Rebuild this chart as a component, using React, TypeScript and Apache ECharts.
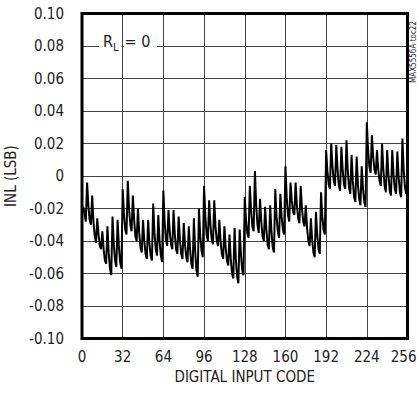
import React, { useEffect, useRef } from "react";
import * as echarts from "echarts";

// INL (LSB) for digital input codes 0..256
const INL_LSB: number[] = [
  -0.020, -0.019, -0.023, -0.028,
  -0.004, -0.018, -0.027, -0.030,
  -0.012, -0.028, -0.037, -0.041,
  -0.026, -0.036, -0.043, -0.045,
  -0.034, -0.045, -0.052, -0.054,
  -0.031, -0.047, -0.057, -0.061,
  -0.025, -0.042, -0.052, -0.056,
  -0.027, -0.043, -0.053, -0.057,
  -0.008, -0.023, -0.033, -0.036,
  -0.003, -0.020, -0.030, -0.034,
  -0.012, -0.027, -0.037, -0.040,
  -0.020, -0.035, -0.044, -0.047,
  -0.027, -0.040, -0.048, -0.051,
  -0.027, -0.041, -0.049, -0.052,
  -0.017, -0.035, -0.045, -0.049,
  -0.024, -0.040, -0.049, -0.053,
  -0.009, -0.028, -0.039, -0.043,
  -0.021, -0.034, -0.042, -0.045,
  -0.021, -0.036, -0.045, -0.048,
  -0.025, -0.039, -0.048, -0.051,
  -0.029, -0.042, -0.050, -0.053,
  -0.031, -0.045, -0.054, -0.057,
  -0.026, -0.046, -0.058, -0.062,
  -0.020, -0.037, -0.046, -0.050,
  -0.006, -0.025, -0.036, -0.040,
  -0.015, -0.030, -0.039, -0.042,
  -0.015, -0.031, -0.040, -0.043,
  -0.027, -0.040, -0.048, -0.051,
  -0.031, -0.044, -0.052, -0.055,
  -0.036, -0.051, -0.060, -0.063,
  -0.032, -0.051, -0.062, -0.066,
  -0.033, -0.048, -0.058, -0.061,
  -0.013, -0.027, -0.035, -0.038,
  -0.006, -0.021, -0.031, -0.034,
  0.003, -0.018, -0.030, -0.035,
  -0.014, -0.028, -0.037, -0.040,
  -0.019, -0.033, -0.042, -0.045,
  -0.018, -0.034, -0.044, -0.047,
  -0.008, -0.025, -0.034, -0.038,
  -0.011, -0.025, -0.033, -0.036,
  0.006, -0.013, -0.024, -0.028,
  -0.004, -0.015, -0.022, -0.024,
  -0.004, -0.018, -0.026, -0.029,
  -0.006, -0.020, -0.028, -0.031,
  -0.018, -0.032, -0.040, -0.043,
  -0.026, -0.039, -0.047, -0.050,
  -0.022, -0.036, -0.045, -0.048,
  -0.010, -0.025, -0.033, -0.036,
  0.016, 0.003, -0.005, -0.008,
  0.020, 0.006, -0.003, -0.006,
  0.019, 0.004, -0.006, -0.009,
  0.018, 0.004, -0.005, -0.008,
  0.022, 0.004, -0.007, -0.011,
  0.013, -0.003, -0.013, -0.016,
  0.012, -0.005, -0.014, -0.018,
  0.006, -0.008, -0.016, -0.019,
  0.033, 0.016, 0.006, 0.002,
  0.025, 0.012, 0.004, 0.001,
  0.016, 0.004, -0.003, -0.006,
  0.020, 0.004, -0.006, -0.010,
  0.016, 0.001, -0.009, -0.012,
  0.016, 0.001, -0.008, -0.011,
  0.015, 0.000, -0.010, -0.013,
  0.023, 0.004, -0.007, -0.011,
  -0.002,
];

const X_MIN = 0;
const X_MAX = 256;
const X_STEP = 32;
const Y_MIN = -0.1;
const Y_MAX = 0.1;
const Y_STEP = 0.02;

const X_TITLE = "DIGITAL INPUT CODE";
const Y_TITLE = "INL (LSB)";
const FIG_ID = "MAX5556A toc22";

const FONT = '"DejaVu Sans Condensed", "Liberation Sans Narrow", "Arial Narrow", sans-serif';
const TXT = "#222";
const FS = 15;

export default function App() {
  const ref = useRef<HTMLDivElement>(null);

  useEffect(() => {
    if (!ref.current) return;
    const chart = echarts.init(ref.current, undefined, { renderer: "svg" });
    const points = INL_LSB.map((v, i) => [i, v]);
    const gridLeft = 82;
    const gridTop = 13.5;
    const gridW = 325.5;
    const gridH = 325;
    const yOf = (v: number) => gridTop + ((Y_MAX - v) / (Y_MAX - Y_MIN)) * gridH;
    const xOf = (c: number) => gridLeft + ((c - X_MIN) / (X_MAX - X_MIN)) * gridW;
    const lineY = yOf(0.08);
    const vx = xOf(32);

    chart.setOption({
      animation: false,
      backgroundColor: "#fff",
      textStyle: { fontFamily: FONT },
      grid: {
        left: gridLeft,
        top: gridTop,
        width: gridW,
        height: gridH,
        show: true,
        borderColor: "#000",
        borderWidth: 3,
        containLabel: false,
        outerBoundsMode: "none",
        z: 3,
      },
      xAxis: {
        type: "value",
        min: X_MIN,
        max: X_MAX,
        interval: X_STEP,
        name: X_TITLE,
        nameLocation: "middle",
        nameGap: 29,
        nameTextStyle: { fontSize: FS, color: TXT, fontFamily: FONT },
        axisLine: { show: false },
        axisTick: { show: false },
        axisLabel: {
          fontSize: FS,
          color: TXT,
          margin: 11,
          fontFamily: FONT,
          showMaxLabel: true,
          showMinLabel: true,
          alignMaxLabel: "right",
          formatter: (v: number) => (v === X_MAX ? "{m|" + v + "}" : String(v)),
          rich: {
            m: { fontSize: FS, color: TXT, fontFamily: FONT, padding: [0, -9, 0, 0] },
          },
        },
        splitLine: { show: true, lineStyle: { color: "#444", width: 1 } },
      },
      yAxis: {
        type: "value",
        min: Y_MIN,
        max: Y_MAX,
        interval: Y_STEP,
        name: Y_TITLE,
        nameLocation: "middle",
        nameRotate: 90,
        nameGap: 48,
        nameTextStyle: { fontSize: FS, color: TXT, fontFamily: FONT },
        axisLine: { show: false },
        axisTick: { show: false },
        axisLabel: {
          fontSize: FS,
          color: TXT,
          margin: 18,
          fontFamily: FONT,
          formatter: (v: number) => (Math.abs(v) < 1e-9 ? "0" : v.toFixed(2)),
        },
        splitLine: { show: true, lineStyle: { color: "#444", width: 1 } },
      },
      series: [
        {
          type: "line",
          data: points,
          showSymbol: false,
          symbol: "none",
          lineStyle: { color: "#000", width: 2 },
          z: 2,
        },
      ],
      graphic: [
        { type: "rect", shape: { x: 99, y: lineY - 2, width: vx - 1.2 - 99, height: 4 }, style: { fill: "#fff" }, z: 10 },
        { type: "rect", shape: { x: vx + 1.2, y: lineY - 2, width: 157 - vx - 1.2, height: 4 }, style: { fill: "#fff" }, z: 10 },
        { type: "text", x: 103, y: 41, style: { text: "R", fontSize: 16, fill: TXT, fontFamily: FONT, verticalAlign: "middle", align: "left" }, z: 11 },
        { type: "text", x: 113, y: 47, style: { text: "L", fontSize: 11, fill: TXT, fontFamily: FONT, verticalAlign: "middle", align: "left" }, z: 11 },
        { type: "text", x: 124.5, y: 41, style: { text: "= 0", fontSize: 16, fill: TXT, fontFamily: FONT, verticalAlign: "middle", align: "left" }, z: 11 },
        { type: "text", x: 413.5, y: 52, rotation: Math.PI / 2, style: { text: FIG_ID, fontSize: 8, fill: TXT, fontFamily: FONT, verticalAlign: "middle", align: "center" }, z: 11 },
      ],
    });
    return () => chart.dispose();
  }, []);

  return <div ref={ref} style={{ position: "fixed", left: 0, top: 0, width: 417, height: 400 }} />;
}
